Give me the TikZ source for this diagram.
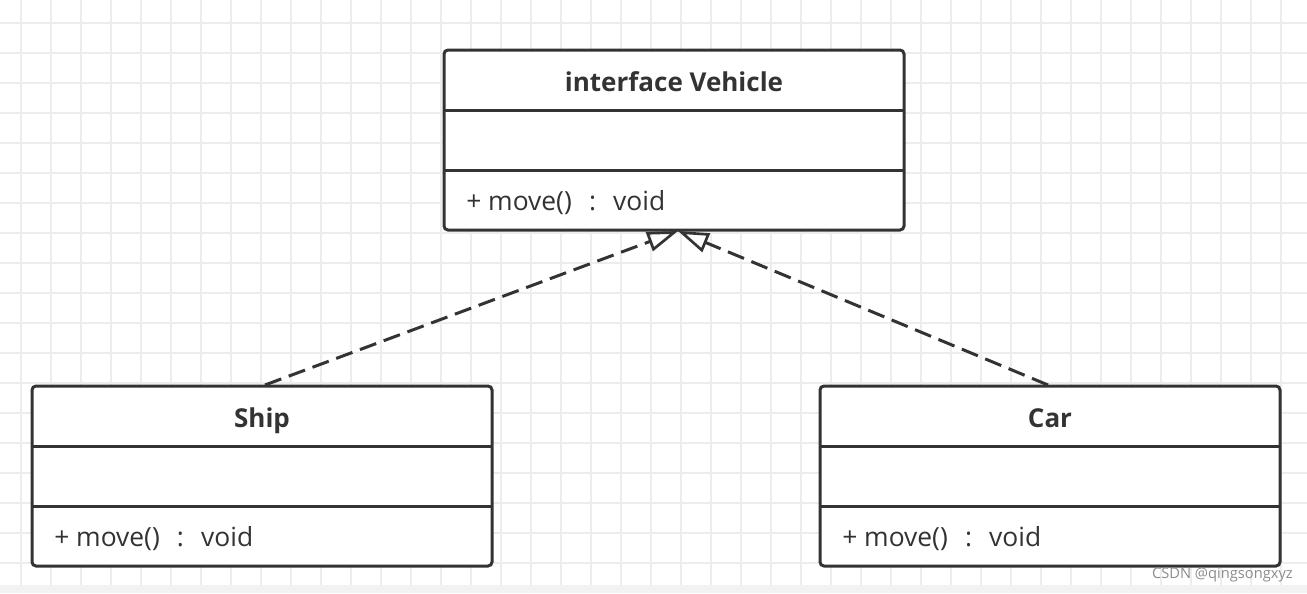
\documentclass[tikz,border=0pt]{standalone}
\usepackage{fontspec}
\setmainfont{Open Sans}
\usetikzlibrary{arrows.meta}
\definecolor{ink}{HTML}{333333}
\definecolor{gridc}{HTML}{EDEDED}
\definecolor{stripc}{HTML}{F2F2F2}
\newcommand{\opsig}{+ move()\hspace{0.65em}:\hspace{0.65em}void}
\tikzset{
  umlbox/.style={draw=ink, line width=2.25pt, rounded corners=3pt, fill=white},
  divider/.style={draw=ink, line width=2.25pt},
  titletext/.style={font=\fontsize{19.5}{21}\selectfont\bfseries, text=ink, inner sep=0pt, anchor=base},
  optext/.style={font=\fontsize{19.8}{21}\selectfont, text=ink, inner sep=0pt, anchor=base west},
  realize/.style={draw=ink, line width=2.25pt, dash pattern=on 13pt off 6pt, -{Triangle[open, length=23pt, width=15pt, line width=2pt]}},
}
\begin{document}
\begin{tikzpicture}[x=0.75pt, y=-0.75pt]
\useasboundingbox (0,0) rectangle (1307,593);
\fill[white] (0,0) rectangle (1307,593);
\fill[stripc] (0,585) rectangle (1307,593);
% grid
\foreach \i in {0,...,43} {
  \pgfmathsetmacro{\gx}{21+30*\i}
  \draw[gridc, line width=1.5pt] (\gx,0) -- (\gx,585);
}
\foreach \j in {0,...,18} {
  \pgfmathsetmacro{\gy}{23+30*\j}
  \draw[gridc, line width=1.5pt] (0,\gy) -- (1307,\gy);
}
% Vehicle
\draw[umlbox] (444,50) rectangle (904,230);
\draw[divider] (444,110) -- (904,110);
\draw[divider] (444,170) -- (904,170);
\node[titletext] (vt) at (674,91) {interface Vehicle};
\node[optext] (vo) at (466,210) {\opsig};
\coordinate (vtip) at (678,231);
% Ship
\draw[umlbox] (32,386) rectangle (492,566);
\draw[divider] (32,446) -- (492,446);
\draw[divider] (32,506) -- (492,506);
\node[titletext] (st) at (262,427) {Ship};
\node[optext] (so) at (54,546) {\opsig};
\coordinate (stop) at (265,385);
% Car
\draw[umlbox] (820,386) rectangle (1280,566);
\draw[divider] (820,446) -- (1280,446);
\draw[divider] (820,506) -- (1280,506);
\node[titletext] (ct) at (1050,427) {Car};
\node[optext] (co) at (842,546) {\opsig};
\coordinate (ctop) at (1048,385);
% connectors
\draw[realize] (stop) -- (vtip);
\draw[realize] (ctop) -- (vtip);
% watermark
\node[font=\fontsize{11}{12}\selectfont, text=black!45, anchor=east, inner sep=0pt] (wm) at (1293,575) {CSDN @qingsongxyz};
\end{tikzpicture}
\end{document}
